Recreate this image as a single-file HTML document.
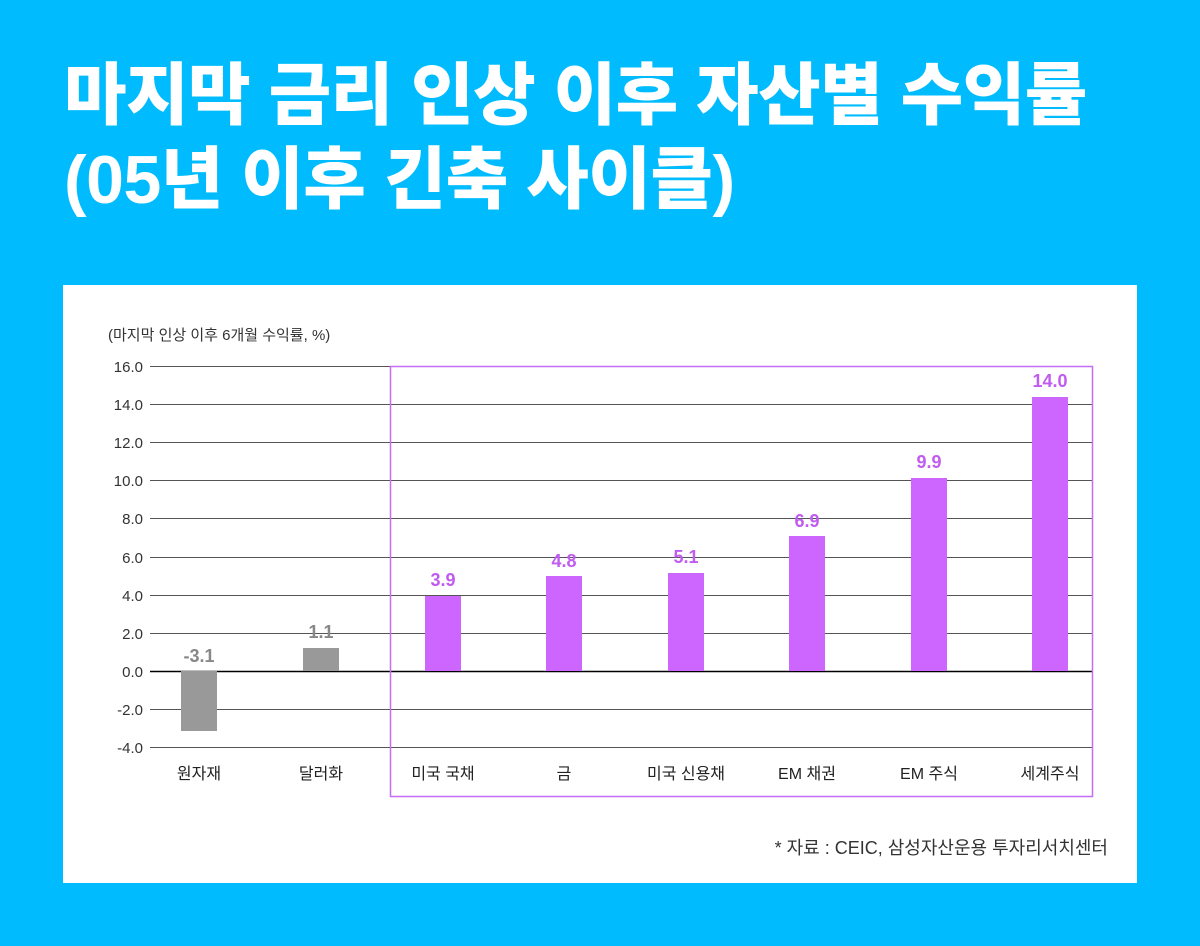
<!DOCTYPE html>
<html><head><meta charset="utf-8"><style>
body{margin:0;width:1200px;height:946px;background:#00bcff;overflow:hidden;font-family:"Liberation Sans","Noto Sans CJK KR",sans-serif;}
h1{position:absolute;left:64px;top:54px;margin:0;color:#fff;font-size:68px;line-height:84px;font-weight:900;letter-spacing:-0.5px;white-space:nowrap;}
.panel{position:absolute;left:63px;top:285px;width:1074px;height:598px;background:#fff;}
</style></head><body>
<h1>마지막 금리 인상 이후 자산별 수익률<br>(05년 이후 긴축 사이클)</h1>
<div class="panel"></div>
<svg width="1200" height="946" style="position:absolute;left:0;top:0" font-family="Liberation Sans, Noto Sans CJK KR, sans-serif">
<text x="108" y="340" font-size="15" fill="#333">(마지막 인상 이후 6개월 수익률, %)</text>
<g stroke="#555" stroke-width="1">
<line x1="150" x2="1092" y1="366.5" y2="366.5"/><line x1="150" x2="1092" y1="404.5" y2="404.5"/>
<line x1="150" x2="1092" y1="442.5" y2="442.5"/><line x1="150" x2="1092" y1="480.5" y2="480.5"/>
<line x1="150" x2="1092" y1="518.5" y2="518.5"/><line x1="150" x2="1092" y1="557.5" y2="557.5"/>
<line x1="150" x2="1092" y1="595.5" y2="595.5"/><line x1="150" x2="1092" y1="633.5" y2="633.5"/>
<line x1="150" x2="1092" y1="709.5" y2="709.5"/><line x1="150" x2="1092" y1="747.5" y2="747.5"/>
</g>
<line x1="150" x2="1092" y1="671.5" y2="671.5" stroke="#000" stroke-width="1.5"/>
<g font-size="15" fill="#333" text-anchor="end">
<text x="143" y="372">16.0</text><text x="143" y="410">14.0</text><text x="143" y="448">12.0</text>
<text x="143" y="486">10.0</text><text x="143" y="524">8.0</text><text x="143" y="563">6.0</text>
<text x="143" y="601">4.0</text><text x="143" y="639">2.0</text><text x="143" y="677">0.0</text>
<text x="143" y="715">-2.0</text><text x="143" y="753">-4.0</text>
</g>
<rect x="390.5" y="366.5" width="702" height="430" fill="none" stroke="#c56ef5" stroke-width="1.5"/>
<g fill="#999"><rect x="181" y="671" width="36" height="60"/><rect x="303" y="648" width="36" height="23"/></g>
<g fill="#cc66ff">
<rect x="425" y="596" width="36" height="75"/><rect x="546" y="576" width="36" height="95"/>
<rect x="668" y="573" width="36" height="98"/><rect x="789" y="536" width="36" height="135"/>
<rect x="911" y="478" width="36" height="193"/><rect x="1032" y="397" width="36" height="274"/>
</g>
<g font-size="18" font-weight="bold" text-anchor="middle">
<text x="199" y="662" fill="#888">-3.1</text><text x="321" y="638" fill="#888">1.1</text>
<g fill="#c05cf0"><text x="443" y="586">3.9</text><text x="564" y="567">4.8</text><text x="686" y="563">5.1</text>
<text x="807" y="527">6.9</text><text x="929" y="468">9.9</text><text x="1050" y="387">14.0</text></g>
</g>
<g font-size="16" fill="#222" text-anchor="middle">
<text x="199" y="779">원자재</text><text x="321" y="779">달러화</text><text x="443" y="779">미국 국채</text>
<text x="564" y="779">금</text><text x="686" y="779">미국 신용채</text><text x="807" y="779">EM 채권</text>
<text x="929" y="779">EM 주식</text><text x="1050" y="779">세계주식</text>
</g>
<text x="1108" y="854" font-size="18" fill="#333" text-anchor="end">* 자료 : CEIC, 삼성자산운용 투자리서치센터</text>
</svg>
</body></html>
